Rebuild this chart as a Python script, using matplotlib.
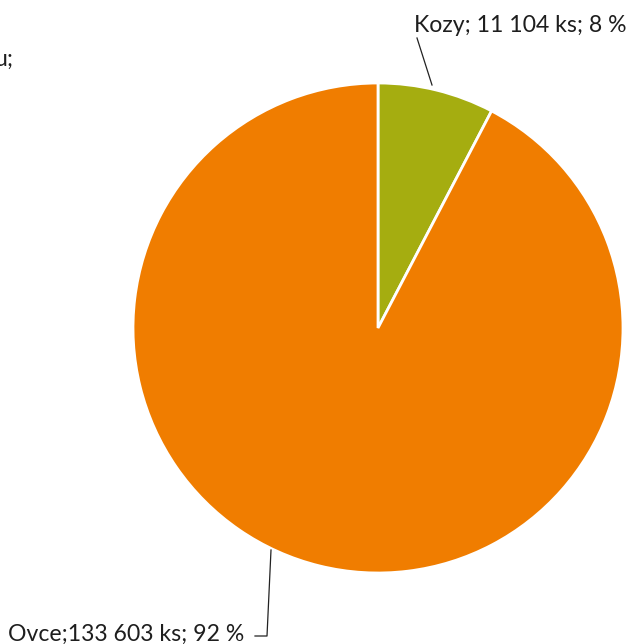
import matplotlib
matplotlib.use("Agg")
import matplotlib.pyplot as plt

labels = ["Kozy", "Ovce"]
counts = [11104, 133603]
colors = ["#A5AD10", "#F07D00"]


def fmt(n):
    return "{:,}".format(n).replace(",", " ")


total = sum(counts)
pcts = [round(c * 100 / total) for c in counts]

W, H = 630, 644
fig = plt.figure(figsize=(W / 100, H / 100), dpi=100)

# pie axes, center ~ (378, 328) px, radius ~ 245 px
cx, cy, r = 378, 328, 245
pax = fig.add_axes([(cx - r) / W, (H - cy - r) / H, 2 * r / W, 2 * r / H])
pax.pie(counts, colors=colors, startangle=90, counterclock=False,
        wedgeprops=dict(edgecolor="white", linewidth=2), radius=1)
pax.set_xlim(-1, 1)
pax.set_ylim(-1, 1)
pax.set_axis_off()

# overlay in pixel coordinates for labels and leader lines
ov = fig.add_axes([0, 0, 1, 1], facecolor="none")
ov.set_xlim(0, W)
ov.set_ylim(H, 0)
ov.set_axis_off()

font = dict(family=["Lato", "DejaVu Sans"], fontsize=16.6, color="#1e1e1e")

ov.text(627, 32, "{}; {} ks; {} %".format(labels[0], fmt(counts[0]), pcts[0]),
        ha="right", va="baseline", **font)
ov.plot([417, 432], [38, 85], color="#222222", lw=0.9)

ov.text(244, 641, "{};{} ks; {} %".format(labels[1], fmt(counts[1]), pcts[1]),
        ha="right", va="baseline", **font)
ov.plot([271, 267, 255], [550, 636, 636], color="#222222", lw=0.9)

# text cut off at the left edge, as in the source
ov.text(13, 66, "u;", ha="right", va="baseline", **font)

fig.savefig("out.png", dpi=100)
